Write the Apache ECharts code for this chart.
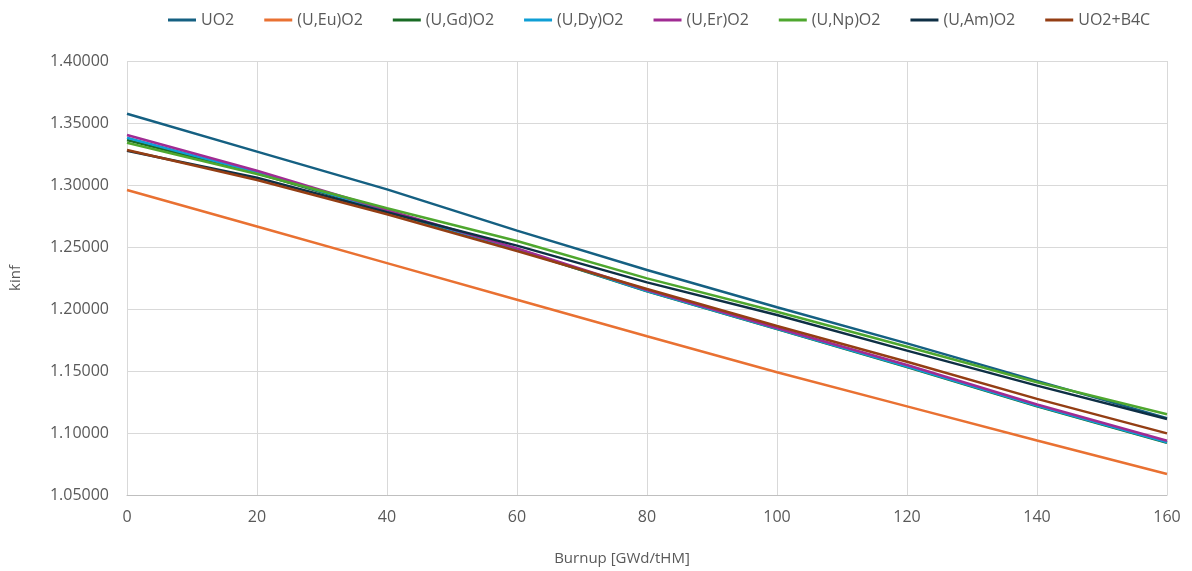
<!DOCTYPE html>
<html>
<head>
<meta charset="utf-8">
<script src="https://cdn.jsdelivr.net/npm/echarts@6/dist/echarts.min.js"></script>
<style>
  html, body { margin: 0; padding: 0; background: #fff; }
  #chart { width: 1192px; height: 571px; }
</style>
</head>
<body>
<div id="chart"></div>
<script>
const burnup = [0, 20, 40, 60, 80, 100, 120, 140, 160];

const uo2   = [1.3575, 1.3269, 1.2965, 1.2632, 1.2315, 1.2014, 1.1723, 1.1420, 1.1120];
const uEu   = [1.2960, 1.2665, 1.2370, 1.2075, 1.1780, 1.1490, 1.1215, 1.0940, 1.0670];
const uGd   = [1.3363, 1.3095, 1.2786, 1.2480, 1.2142, 1.1838, 1.1532, 1.1216, 1.0922];
const uDy   = [1.3381, 1.3102, 1.2790, 1.2484, 1.2145, 1.1841, 1.1535, 1.1219, 1.0925];
const uEr   = [1.3403, 1.3115, 1.2798, 1.2489, 1.2153, 1.1847, 1.1548, 1.1230, 1.0938];
const uNp   = [1.3341, 1.3089, 1.2812, 1.2548, 1.2247, 1.1978, 1.1696, 1.1409, 1.1151];
const uAm   = [1.3277, 1.3059, 1.2780, 1.2511, 1.2215, 1.1952, 1.1664, 1.1382, 1.1113];
const uo2B4c = [1.3282, 1.3040, 1.2764, 1.2468, 1.2161, 1.1863, 1.1575, 1.1275, 1.0997];

const names  = ["UO2", "(U,Eu)O2", "(U,Gd)O2", "(U,Dy)O2", "(U,Er)O2", "(U,Np)O2", "(U,Am)O2", "UO2+B4C"];
const values = [uo2, uEu, uGd, uDy, uEr, uNp, uAm, uo2B4c];
const colors = ["#156082", "#E97132", "#196B24", "#0F9ED5", "#A02B93", "#4EA72E", "#0E2F45", "#943E14"];

const font = "'Open Sans', 'Liberation Sans', sans-serif";
const textColor = "#595959";

const chart = echarts.init(document.getElementById("chart"));

const option = {
  animation: false,
  color: colors,
  textStyle: { fontFamily: font },
  legend: {
    top: 7,
    left: 163,
    icon: "rect",
    itemWidth: 28,
    itemHeight: 3,
    itemGap: 30,
    textStyle: { color: textColor, fontSize: 16, fontFamily: font },
    data: names
  },
  grid: { left: 127, right: 25, top: 61, bottom: 76 },
  xAxis: {
    type: "value",
    min: 0,
    max: 160,
    interval: 20,
    name: "Burnup [GWd/tHM]",
    nameLocation: "middle",
    nameGap: 56,
    nameTextStyle: { color: textColor, fontSize: 15, padding: [0, 50, 0, 0] },
    axisLine: { lineStyle: { color: "#BFBFBF", width: 1 } },
    axisTick: { show: false },
    axisLabel: { color: textColor, fontSize: 16, margin: 14 },
    splitLine: { show: true, lineStyle: { color: "#D9D9D9", width: 1 } }
  },
  yAxis: {
    type: "value",
    min: 1.05,
    max: 1.40,
    interval: 0.05,
    name: "kinf",
    nameLocation: "middle",
    nameGap: 104,
    nameTextStyle: { color: textColor, fontSize: 15 },
    axisLine: { show: false },
    axisTick: { show: false },
    axisLabel: {
      color: textColor,
      fontSize: 16,
      margin: 18,
      formatter: (v) => v.toFixed(5)
    },
    splitLine: { lineStyle: { color: "#D9D9D9", width: 1 } }
  },
  series: names.map((name, i) => ({
    name: name,
    type: "line",
    symbol: "none",
    data: burnup.map((b, j) => [b, values[i][j]]),
    lineStyle: { width: 2.5, color: colors[i] },
    itemStyle: { color: colors[i] }
  }))
};

chart.setOption(option);
</script>
</body>
</html>
